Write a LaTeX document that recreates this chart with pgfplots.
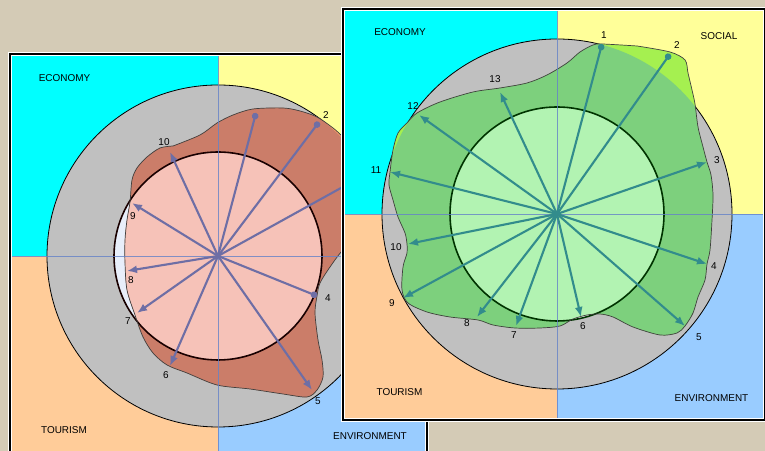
\documentclass[border=0pt]{standalone}
\usepackage{fontspec}
\setmainfont{Liberation Sans}
\usepackage{pgfplots}
\pgfplotsset{compat=1.18}
\usepackage{pgfplotstable}
\usetikzlibrary{arrows.meta}

\definecolor{bg}{RGB}{212,203,182}
\definecolor{qcyan}{RGB}{0,255,255}
\definecolor{qyellow}{RGB}{255,255,153}
\definecolor{qpeach}{RGB}{255,204,153}
\definecolor{qblue}{RGB}{153,204,255}
\definecolor{ring}{RGB}{192,192,192}
\definecolor{divline}{RGB}{100,130,200}
\definecolor{gC}{RGB}{165,240,80}
\definecolor{gA}{RGB}{125,208,125}
\definecolor{gB}{RGB}{178,243,178}
\definecolor{rC}{RGB}{250,160,105}
\definecolor{rA}{RGB}{203,125,105}
\definecolor{rB}{RGB}{246,194,184}
\definecolor{innerL}{RGB}{232,238,250}
\definecolor{arrG}{RGB}{50,140,140}
\definecolor{arrR}{RGB}{110,110,165}
\definecolor{txt}{RGB}{30,30,30}

% right panel polygon (relative to centre)
\pgfplotstableread{
x y
80 168
113 162
128 154
131 141
135 124
138 110
141 87
146 67
150 52
154 39
156 19
155 -6
153 -36
150 -50
148 -66
141 -83
136 -99
128 -112
120 -119
103 -121
76 -113
56 -103
43 -100
30 -101
16 -105
3 -112
-17 -114
-42 -114
-64 -111
-79 -106
-107 -103
-130 -98
-149 -89
-155 -76
-154 -53
-150 -39
-150 -30
-152 -19
-159 -3
-164 14
-168 29
-167 42
-164 64
-159 81
-150 91
-140 101
-117 112
-84 122
-57 126
-30 131
-10 139
10 151
23 162
36 169
45 170
80 168
}\rpoly

\pgfplotstableread{
x y
150 52
150 -50
128 -112
24 -103
-41 -112
-80 -103
-154 -84
-149 -30
-167 42
-138 99
-57 122
}\rheads

\pgfplotstableread{
x y
45 170
113 160
}\rdots

% left panel polygon
\pgfplotstableread{
x y
-45 110
-18 121
-1 133
15 141
35 147
65 148
82 145
99 139
115 128
125 119
142 101
154 71
152 41
140 16
125 6
112 -11
102 -27
99 -40
97 -57
100 -84
104 -104
105 -121
99 -134
89 -141
65 -138
32 -133
-1 -129
-31 -117
-51 -109
-65 -97
-75 -81
-83 -59
-91 -34
-93 -7
-93 16
-91 36
-88 54
-86 76
-81 88
-71 99
-58 108
-45 110
}\lpoly

\pgfplotstableread{
x y
150 83
94 -134
-48 -110
-81 -57
-91 -15
-86 53
-48 104
}\lheads

\pgfplotstableread{
x y
38 143
101 134
99 -40
}\ldots

\pgfplotsset{panel/.style={hide axis, scale only axis, clip=true, anchor=south west,
  every node/.append style={font=\fontsize{11.3}{13}\selectfont, text=txt, inner sep=0pt}}}

\begin{document}
\begin{tikzpicture}[x=1bp,y=1bp]
\path[use as bounding box, fill=bg] (0,0) rectangle (765,451);

%================ LEFT PANEL =================
\begin{axis}[panel, name=L, at={(10bp,0bp)}, width=417bp, height=397bp,
  xmin=-208, xmax=209, ymin=-195, ymax=202]
\fill[qcyan] (-208,0) rectangle (0,202);
\fill[qyellow] (0,0) rectangle (209,202);
\fill[qpeach] (-208,-195) rectangle (0,0);
\fill[qblue] (0,-195) rectangle (209,0);
\fill[ring] (0,0) circle[radius=171];
\draw[black, line width=0.8bp] (0,0) circle[radius=171];
\fill[innerL] (0,0) circle[radius=104];
\addplot[fill=rC, draw=none, smooth] table {\lpoly};
\begin{scope}
\clip (0,0) circle[radius=171];
\addplot[fill=rA, draw=none, smooth] table {\lpoly};
\end{scope}
\begin{scope}
\clip (0,0) circle[radius=104];
\addplot[fill=rB, draw=none, smooth] table {\lpoly};
\end{scope}
\draw[black!90!red, line width=1.6bp] (0,0) circle[radius=104];
\addplot[draw=black!75, line width=0.7bp, smooth] table {\lpoly};
\draw[divline, line width=0.8bp, opacity=0.8] (0,-195) -- (0,202);
\draw[divline, line width=0.8bp, opacity=0.8] (-208,0) -- (209,0);
\addplot[arrR, line width=2.1bp, -{Latex[length=10bp,width=8bp]},
  quiver={u=\thisrow{x}, v=\thisrow{y}}] table[x expr=0, y expr=0] {\lheads};
\addplot[arrR, line width=2.1bp, -{Circle[length=6.5bp]},
  quiver={u=\thisrow{x}, v=\thisrow{y}}] table[x expr=0, y expr=0] {\ldots};
\node at (108,141) {2};
\node at (110,-42) {4};
\node at (100,-145) {5};
\node at (-52,-119) {6};
\node at (-90,-65) {7};
\node at (-87,-24) {8};
\node at (-85,40) {9};
\node at (-54,114) {10};
\node at (-153.5,178) {ECONOMY};
\node at (-154,-174) {TOURISM};
\node at (152,-180) {ENVIRONMENT};
\end{axis}
\draw[white, line width=3.5bp] (L.south west) -- (L.north west) -- (L.north east) -- (L.south east);
\draw[black, line width=1.5bp] (L.south west) -- (L.north west) -- (L.north east) -- (L.south east);

%================ RIGHT PANEL =================
\begin{axis}[panel, name=R, at={(343bp,31bp)}, width=422bp, height=411bp,
  xmin=-214, xmax=208, ymin=-206, ymax=205]
\fill[qcyan] (-214,0) rectangle (0,205);
\fill[qyellow] (0,0) rectangle (208,205);
\fill[qpeach] (-214,-206) rectangle (0,0);
\fill[qblue] (0,-206) rectangle (208,0);
\fill[ring] (0,0) circle[radius=175];
\draw[black, line width=0.8bp] (0,0) circle[radius=175];
\fill[white] (0,0) circle[radius=107];
\addplot[fill=gC, draw=none, smooth] table {\rpoly};
\begin{scope}
\clip (0,0) circle[radius=175];
\addplot[fill=gA, draw=none, smooth] table {\rpoly};
\end{scope}
\begin{scope}
\clip (0,0) circle[radius=107];
\addplot[fill=gB, draw=none, smooth] table {\rpoly};
\end{scope}
\draw[black!80!green, line width=1.6bp] (0,0) circle[radius=107];
\addplot[draw=black!75, line width=0.7bp, smooth] table {\rpoly};
\draw[divline, line width=0.8bp, opacity=0.8] (0,-206) -- (0,205);
\draw[divline, line width=0.8bp, opacity=0.8] (-214,0) -- (208,0);
\addplot[arrG, line width=2.1bp, -{Latex[length=10bp,width=8bp]},
  quiver={u=\thisrow{x}, v=\thisrow{y}}] table[x expr=0, y expr=0] {\rheads};
\addplot[arrG, line width=2.1bp, -{Circle[length=6.5bp]},
  quiver={u=\thisrow{x}, v=\thisrow{y}}] table[x expr=0, y expr=0] {\rdots};
\node at (47,179) {1};
\node at (120,169) {2};
\node at (160,54) {3};
\node at (157,-52) {4};
\node at (142,-123) {5};
\node at (26,-112) {6};
\node at (-43,-121) {7};
\node at (-90,-109) {8};
\node at (-165,-89) {9};
\node at (-161,-33) {10};
\node at (-181,44) {11};
\node at (-144,108) {12};
\node at (-62,135) {13};
\node at (-157,182) {ECONOMY};
\node at (162,178) {SOCIAL};
\node at (-157.5,-178) {TOURISM};
\node at (154.5,-184) {ENVIRONMENT};
\end{axis}
\draw[white, line width=3.5bp] (R.south west) rectangle (R.north east);
\draw[black, line width=1.5bp] (R.south west) rectangle (R.north east);
\end{tikzpicture}
\end{document}
